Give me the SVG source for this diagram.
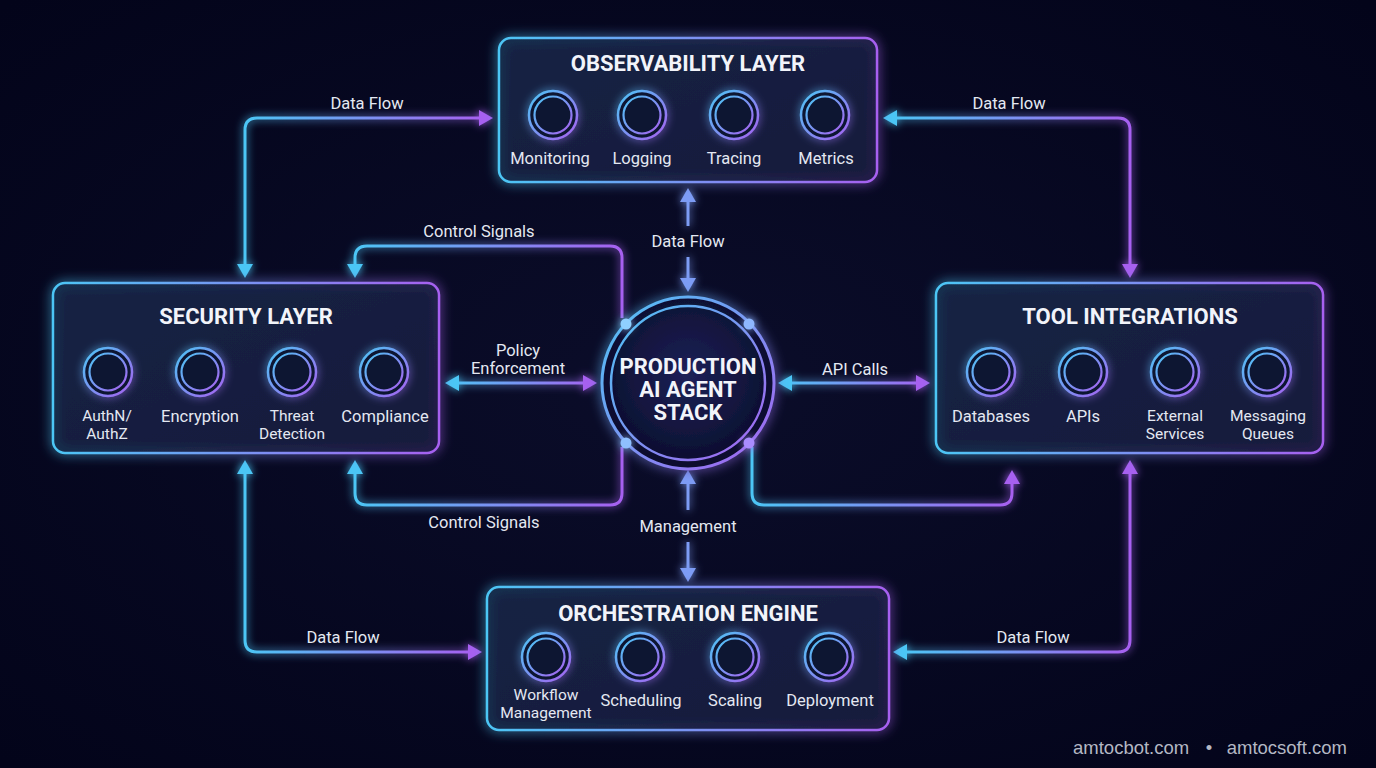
<svg xmlns="http://www.w3.org/2000/svg" width="1376" height="768" viewBox="0 0 1376 768">
<defs>
  <radialGradient id="bg" cx="50%" cy="50%" r="70%">
    <stop offset="0" stop-color="#0b0d2a"/>
    <stop offset="1" stop-color="#03041a"/>
  </radialGradient>
  <linearGradient id="gh" x1="0" y1="0" x2="1" y2="0">
    <stop offset="0" stop-color="#4cc6f5"/>
    <stop offset="1" stop-color="#a760f0"/>
  </linearGradient>
  <linearGradient id="gring" x1="0" y1="0" x2="1" y2="1">
    <stop offset="0" stop-color="#4cc6f5"/>
    <stop offset="1" stop-color="#a760f0"/>
  </linearGradient>
  <linearGradient id="gPol" gradientUnits="userSpaceOnUse" x1="445" y1="0" x2="597" y2="0">
    <stop offset="0" stop-color="#4cc6f5"/>
    <stop offset="1" stop-color="#a760f0"/>
  </linearGradient>
  <linearGradient id="gApi" gradientUnits="userSpaceOnUse" x1="778" y1="0" x2="930" y2="0">
    <stop offset="0" stop-color="#4cc6f5"/>
    <stop offset="1" stop-color="#a760f0"/>
  </linearGradient>
  <radialGradient id="hubFill" cx="50%" cy="45%" r="55%">
    <stop offset="0" stop-color="#1d2158"/>
    <stop offset="1" stop-color="#0b0d2c"/>
  </radialGradient>
  <linearGradient id="boxFill" x1="0" y1="0" x2="1" y2="1">
    <stop offset="0" stop-color="#132344"/>
    <stop offset="1" stop-color="#161a3c"/>
  </linearGradient>
  <filter id="glow" filterUnits="userSpaceOnUse" x="0" y="0" width="1376" height="768">
    <feGaussianBlur in="SourceGraphic" stdDeviation="4" result="b"/>
    <feMerge><feMergeNode in="b"/><feMergeNode in="SourceGraphic"/></feMerge>
  </filter>
  <filter id="softglow" filterUnits="userSpaceOnUse" x="0" y="0" width="1376" height="768">
    <feGaussianBlur in="SourceGraphic" stdDeviation="6" result="b"/>
    <feMerge><feMergeNode in="b"/><feMergeNode in="SourceGraphic"/></feMerge>
  </filter>
  <marker id="aC" markerUnits="userSpaceOnUse" markerWidth="18" markerHeight="18" refX="4" refY="8" orient="auto-start-reverse">
    <path d="M0,0 L14,8 L0,16 z" fill="#4cc6f5"/>
  </marker>
  <marker id="aP" markerUnits="userSpaceOnUse" markerWidth="18" markerHeight="18" refX="4" refY="8" orient="auto-start-reverse">
    <path d="M0,0 L14,8 L0,16 z" fill="#a760f0"/>
  </marker>
  <marker id="aL" markerUnits="userSpaceOnUse" markerWidth="18" markerHeight="18" refX="4" refY="8" orient="auto-start-reverse">
    <path d="M0,0 L14,8 L0,16 z" fill="#7d9cf5"/>
  </marker>
  <style>
    .box{fill:url(#boxFill);fill-opacity:0.85;stroke:url(#gh);stroke-width:2.5;filter:url(#softglow)}
    .title{font-family:Roboto,"Liberation Sans",sans-serif;font-weight:700;font-size:22px;fill:#f2f4fa;text-anchor:middle}
    .lbl{font-family:Roboto,"Liberation Sans",sans-serif;font-size:16.5px;fill:#e4e8f2;text-anchor:middle}
    .lbl2{font-family:Roboto,"Liberation Sans",sans-serif;font-size:15.5px;fill:#e4e8f2;text-anchor:middle}
    .clbl{font-family:Roboto,"Liberation Sans",sans-serif;font-size:16.5px;fill:#e4e8f2;text-anchor:middle}
    .ring{fill:#0d1533;stroke:url(#gring);stroke-width:2.5;filter:url(#glow)}
    .ring2{fill:none;stroke:url(#gring);stroke-width:2.2}
    .conn{fill:none;stroke:url(#gh);stroke-width:3;filter:url(#glow)}
    .hubt{font-family:Roboto,"Liberation Sans",sans-serif;font-weight:700;font-size:22px;fill:#f2f4fa;text-anchor:middle}
    .foot{font-family:"Liberation Sans",Arial,sans-serif;font-size:18.5px;fill:#b4b8c4}
  </style>
</defs>
<rect width="1376" height="768" fill="url(#bg)"/>

<g id="connectors">
  <path class="conn" d="M245,268 V130 Q245,118 257,118 H483" marker-start="url(#aC)" marker-end="url(#aP)"/>
  <path class="conn" d="M893,118 H1118 Q1130,118 1130,130 V268" marker-start="url(#aC)" marker-end="url(#aP)"/>
  <path class="conn" d="M245,470 V640 Q245,652 257,652 H472" marker-start="url(#aC)" marker-end="url(#aP)"/>
  <path class="conn" d="M903,652 H1118 Q1130,652 1130,640 V470" marker-start="url(#aC)" marker-end="url(#aP)"/>
  <path class="conn" d="M622,318 V258 Q622,246 610,246 H367 Q355,246 355,258 V268" marker-end="url(#aC)"/>
  <path class="conn" d="M622,447 V493 Q622,505 610,505 H367 Q355,505 355,493 V470" marker-end="url(#aC)"/>
  <path class="conn" d="M752,447 V493 Q752,505 764,505 H1000 Q1012,505 1012,493 V480" marker-end="url(#aP)"/>
  <path d="M455,383 H587" fill="none" stroke="url(#gPol)" stroke-width="3" filter="url(#glow)" marker-start="url(#aC)" marker-end="url(#aP)"/>
  <path d="M788,383 H920" fill="none" stroke="url(#gApi)" stroke-width="3" filter="url(#glow)" marker-start="url(#aC)" marker-end="url(#aP)"/>
  <path d="M688,226 V198" fill="none" stroke="#7d9cf5" stroke-width="3" filter="url(#glow)" marker-end="url(#aL)"/>
  <path d="M688,257 V282" fill="none" stroke="#7d9cf5" stroke-width="3" filter="url(#glow)" marker-end="url(#aL)"/>
  <path d="M688,510 V480" fill="none" stroke="#7d9cf5" stroke-width="3" filter="url(#glow)" marker-end="url(#aL)"/>
  <path d="M688,542 V572" fill="none" stroke="#7d9cf5" stroke-width="3" filter="url(#glow)" marker-end="url(#aL)"/>
  <text class="clbl" x="367" y="109">Data Flow</text>
  <text class="clbl" x="1009" y="109">Data Flow</text>
  <text class="clbl" x="343" y="643">Data Flow</text>
  <text class="clbl" x="1033" y="643">Data Flow</text>
  <text class="clbl" x="479" y="237">Control Signals</text>
  <text class="clbl" x="484" y="528">Control Signals</text>
  <text class="clbl" x="518" y="356">Policy</text>
  <text class="clbl" x="518" y="374">Enforcement</text>
  <text class="clbl" x="855" y="375">API Calls</text>
  <text class="clbl" x="688" y="247">Data Flow</text>
  <text class="clbl" x="688" y="532">Management</text>
</g>

<g id="observability">
  <rect class="box" x="499" y="38" width="378" height="144" rx="12"/>
  <text class="title" x="688" y="71">OBSERVABILITY LAYER</text>
  <circle class="ring" cx="553" cy="115" r="24"/><circle class="ring2" cx="553" cy="115" r="18.5"/>
  <circle class="ring" cx="642" cy="115" r="24"/><circle class="ring2" cx="642" cy="115" r="18.5"/>
  <circle class="ring" cx="734" cy="115" r="24"/><circle class="ring2" cx="734" cy="115" r="18.5"/>
  <circle class="ring" cx="825" cy="115" r="24"/><circle class="ring2" cx="825" cy="115" r="18.5"/>
  <text class="lbl" x="550" y="164">Monitoring</text>
  <text class="lbl" x="642" y="164">Logging</text>
  <text class="lbl" x="734" y="164">Tracing</text>
  <text class="lbl" x="826" y="164">Metrics</text>
</g>

<g id="security">
  <rect class="box" x="53" y="283" width="386" height="170" rx="12"/>
  <text class="title" x="246" y="324">SECURITY LAYER</text>
  <circle class="ring" cx="108" cy="372" r="24"/><circle class="ring2" cx="108" cy="372" r="18.5"/>
  <circle class="ring" cx="200" cy="372" r="24"/><circle class="ring2" cx="200" cy="372" r="18.5"/>
  <circle class="ring" cx="292" cy="372" r="24"/><circle class="ring2" cx="292" cy="372" r="18.5"/>
  <circle class="ring" cx="384" cy="372" r="24"/><circle class="ring2" cx="384" cy="372" r="18.5"/>
  <text class="lbl2" x="107" y="421">AuthN/</text>
  <text class="lbl2" x="107" y="439">AuthZ</text>
  <text class="lbl" x="200" y="422">Encryption</text>
  <text class="lbl2" x="292" y="421">Threat</text>
  <text class="lbl2" x="292" y="439">Detection</text>
  <text class="lbl" x="385" y="422">Compliance</text>
</g>

<g id="tools">
  <rect class="box" x="936" y="283" width="387" height="170" rx="12"/>
  <text class="title" x="1130" y="324">TOOL INTEGRATIONS</text>
  <circle class="ring" cx="991" cy="372" r="24"/><circle class="ring2" cx="991" cy="372" r="18.5"/>
  <circle class="ring" cx="1083" cy="372" r="24"/><circle class="ring2" cx="1083" cy="372" r="18.5"/>
  <circle class="ring" cx="1175" cy="372" r="24"/><circle class="ring2" cx="1175" cy="372" r="18.5"/>
  <circle class="ring" cx="1267" cy="372" r="24"/><circle class="ring2" cx="1267" cy="372" r="18.5"/>
  <text class="lbl" x="991" y="422">Databases</text>
  <text class="lbl" x="1083" y="422">APIs</text>
  <text class="lbl2" x="1175" y="421">External</text>
  <text class="lbl2" x="1175" y="439">Services</text>
  <text class="lbl2" x="1268" y="421">Messaging</text>
  <text class="lbl2" x="1268" y="439">Queues</text>
</g>

<g id="orchestration">
  <rect class="box" x="487" y="587" width="402" height="143" rx="12"/>
  <text class="title" x="688" y="621">ORCHESTRATION ENGINE</text>
  <circle class="ring" cx="546" cy="657" r="24"/><circle class="ring2" cx="546" cy="657" r="18.5"/>
  <circle class="ring" cx="640" cy="657" r="24"/><circle class="ring2" cx="640" cy="657" r="18.5"/>
  <circle class="ring" cx="735" cy="657" r="24"/><circle class="ring2" cx="735" cy="657" r="18.5"/>
  <circle class="ring" cx="829" cy="657" r="24"/><circle class="ring2" cx="829" cy="657" r="18.5"/>
  <text class="lbl2" x="546" y="700">Workflow</text>
  <text class="lbl2" x="546" y="718">Management</text>
  <text class="lbl" x="641" y="706">Scheduling</text>
  <text class="lbl" x="735" y="706">Scaling</text>
  <text class="lbl" x="830" y="706">Deployment</text>
</g>

<g id="hub">
  <circle cx="688" cy="383" r="86" fill="url(#hubFill)" stroke="url(#gring)" stroke-width="3" filter="url(#softglow)"/>
  <circle cx="688" cy="383" r="77" fill="none" stroke="url(#gring)" stroke-width="2.5"/>
  <circle cx="626" cy="324" r="5.5" fill="#8fd0ff" filter="url(#glow)"/>
  <circle cx="749" cy="324" r="5.5" fill="#8fb8ff" filter="url(#glow)"/>
  <circle cx="626" cy="443" r="5.5" fill="#8fc0ff" filter="url(#glow)"/>
  <circle cx="749" cy="443" r="5.5" fill="#a98cff" filter="url(#glow)"/>
  <text class="hubt" x="688" y="374">PRODUCTION</text>
  <text class="hubt" x="688" y="397">AI AGENT</text>
  <text class="hubt" x="688" y="420">STACK</text>
</g>

<g id="footer">
  <text class="foot" x="1073" y="754">amtocbot.com</text>
  <text class="foot" x="1209" y="754" text-anchor="middle">•</text>
  <text class="foot" x="1347" y="754" text-anchor="end">amtocsoft.com</text>
</g>
</svg>
